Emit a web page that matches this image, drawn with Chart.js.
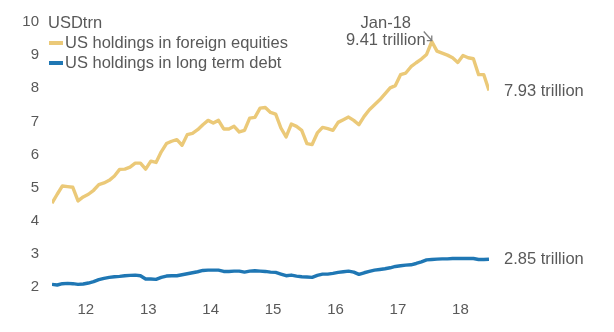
<!DOCTYPE html>
<html>
<head>
<meta charset="utf-8">
<script src="https://cdn.jsdelivr.net/npm/chart.js@4"></script>
<style>
  body { margin: 0; background: #fff; }
  #wrap { width: 614px; height: 332px; position: relative; }
</style>
</head>
<body>
<div id="wrap"><canvas id="chart"></canvas></div>
<script>
// Monthly data, Dec-11 .. Dec-18 (USD trillion)
const yearLabels = ['12', '13', '14', '15', '16', '17', '18'];
const seriesNames = ['US holdings in foreign equities', 'US holdings in long term debt'];
const equities = [
    4.53, 4.80, 5.05, 5.03, 5.01, 4.60, 4.72, 4.80, 4.92, 5.09, 5.14, 5.22,
    5.35, 5.55, 5.56, 5.62, 5.74, 5.74, 5.56, 5.80, 5.76, 6.08, 6.33, 6.40,
    6.45, 6.28, 6.60, 6.64, 6.75, 6.90, 7.03, 6.95, 7.03, 6.77, 6.77, 6.85,
    6.68, 6.73, 7.10, 7.12, 7.40, 7.42, 7.27, 7.22, 6.80, 6.53, 6.92, 6.85,
    6.73, 6.33, 6.30, 6.65, 6.82, 6.78, 6.73, 6.97, 7.05, 7.13, 7.03, 6.90,
    7.15, 7.35, 7.50, 7.65, 7.83, 8.01, 8.08, 8.41, 8.46, 8.65, 8.77, 8.88,
    9.02, 9.41, 9.12, 9.06, 9.00, 8.92, 8.78, 8.99, 8.92, 8.89, 8.41, 8.41,
    7.93
];
const debt = [
    2.08, 2.06, 2.10, 2.11, 2.10, 2.08, 2.09, 2.12, 2.16, 2.22, 2.26, 2.29,
    2.31, 2.32, 2.34, 2.35, 2.36, 2.34, 2.24, 2.24, 2.23, 2.29, 2.33, 2.34,
    2.34, 2.37, 2.40, 2.43, 2.46, 2.50, 2.51, 2.51, 2.51, 2.47, 2.47, 2.48,
    2.48, 2.45, 2.48, 2.49, 2.48, 2.47, 2.45, 2.44, 2.39, 2.34, 2.36, 2.33,
    2.31, 2.30, 2.29, 2.35, 2.39, 2.39, 2.41, 2.44, 2.46, 2.48, 2.45, 2.38,
    2.43, 2.47, 2.51, 2.53, 2.55, 2.58, 2.62, 2.64, 2.66, 2.67, 2.71, 2.76,
    2.82, 2.83, 2.84, 2.85, 2.85, 2.86, 2.86, 2.86, 2.86, 2.86, 2.83, 2.83,
    2.84
];
const peakIndex = 73; // Jan-18
const peakLabel = 'Jan-18';
const endLabels = ['7.93 trillion', '2.85 trillion'];

const textColor = '#595959';
const fontFamily = '"Liberation Sans", Arial, sans-serif';
const colors = ['#EBC978', '#1F77B4'];

// Function to draw legend and annotations
const annotationPlugin = {
    id: 'annotations',
    afterDatasetsDraw(chart) {
        const ctx = chart.ctx;
        const x = chart.scales.x;
        const y = chart.scales.y;
        ctx.save();
        ctx.fillStyle = textColor;
        ctx.font = '16.5px ' + fontFamily;
        ctx.textBaseline = 'middle';
        ctx.textAlign = 'left';

        // unit label
        ctx.fillText('USDtrn', 48, y.getPixelForValue(10) + 1);

        // legend
        chart.data.datasets.forEach((ds, i) => {
            const ly = 43 + i * 20;
            ctx.strokeStyle = ds.borderColor;
            ctx.lineWidth = 4;
            ctx.beginPath();
            ctx.moveTo(49, ly);
            ctx.lineTo(63, ly);
            ctx.stroke();
            ctx.fillText(ds.label, 65, ly);
        });

        // end labels
        const lastX = x.getPixelForValue(equities.length - 1);
        ctx.fillText(endLabels[0], lastX + 15, y.getPixelForValue(equities[equities.length - 1]) + 1);
        ctx.fillText(endLabels[1], lastX + 15, y.getPixelForValue(debt[debt.length - 1]));

        // peak label with arrow
        const px = x.getPixelForValue(peakIndex);
        const py = y.getPixelForValue(equities[peakIndex]);
        ctx.textAlign = 'center';
        ctx.fillText(peakLabel, px - 46, py - 18);
        ctx.fillText(equities[peakIndex].toFixed(2) + ' trillion', px - 46, py - 1);
        ctx.strokeStyle = '#7f7f7f';
        ctx.lineWidth = 1.3;
        ctx.beginPath();
        ctx.moveTo(px - 8, py - 10);
        ctx.lineTo(px, py - 1);
        ctx.moveTo(px - 5, py - 1);
        ctx.lineTo(px, py - 1);
        ctx.lineTo(px, py - 6);
        ctx.stroke();
        ctx.restore();
    }
};

document.addEventListener('DOMContentLoaded', function() {
    const ctx = document.getElementById('chart');
    new Chart(ctx, {
        type: 'line',
        data: {
            datasets: [
                {
                    label: seriesNames[0],
                    data: equities.map((v, i) => ({ x: i, y: v })),
                    borderColor: colors[0],
                    borderWidth: 3.4
                },
                {
                    label: seriesNames[1],
                    data: debt.map((v, i) => ({ x: i, y: v })),
                    borderColor: colors[1],
                    borderWidth: 3.4
                }
            ]
        },
        options: {
            responsive: true,
            maintainAspectRatio: false,
            animation: false,
            elements: {
                point: { radius: 0 },
                line: { tension: 0, borderJoinStyle: 'round', borderCapStyle: 'butt' }
            },
            layout: { padding: { top: 17, right: 125, left: 0, bottom: 0 } },
            plugins: {
                legend: { display: false },
                tooltip: { enabled: false }
            },
            scales: {
                x: {
                    type: 'linear',
                    min: 0,
                    max: equities.length - 1,
                    grid: { display: false, drawTicks: false },
                    border: { display: false },
                    afterBuildTicks: function(scale) {
                        scale.ticks = yearLabels.map((l, i) => ({ value: 6.5 + 12 * i }));
                    },
                    afterFit: function(scale) { scale.height = 45; },
                    ticks: {
                        autoSkip: false,
                        maxRotation: 0,
                        padding: 14,
                        color: textColor,
                        font: { family: fontFamily, size: 15 },
                        callback: function(value) {
                            return yearLabels[Math.round((value - 6.5) / 12)];
                        }
                    }
                },
                y: {
                    min: 2,
                    max: 10,
                    grid: { display: false, drawTicks: false },
                    border: { display: false },
                    afterFit: function(scale) { scale.width = 52; },
                    ticks: {
                        stepSize: 1,
                        padding: 13,
                        color: textColor,
                        font: { family: fontFamily, size: 15 }
                    }
                }
            }
        },
        plugins: [annotationPlugin]
    });
});
</script>
</body>
</html>
